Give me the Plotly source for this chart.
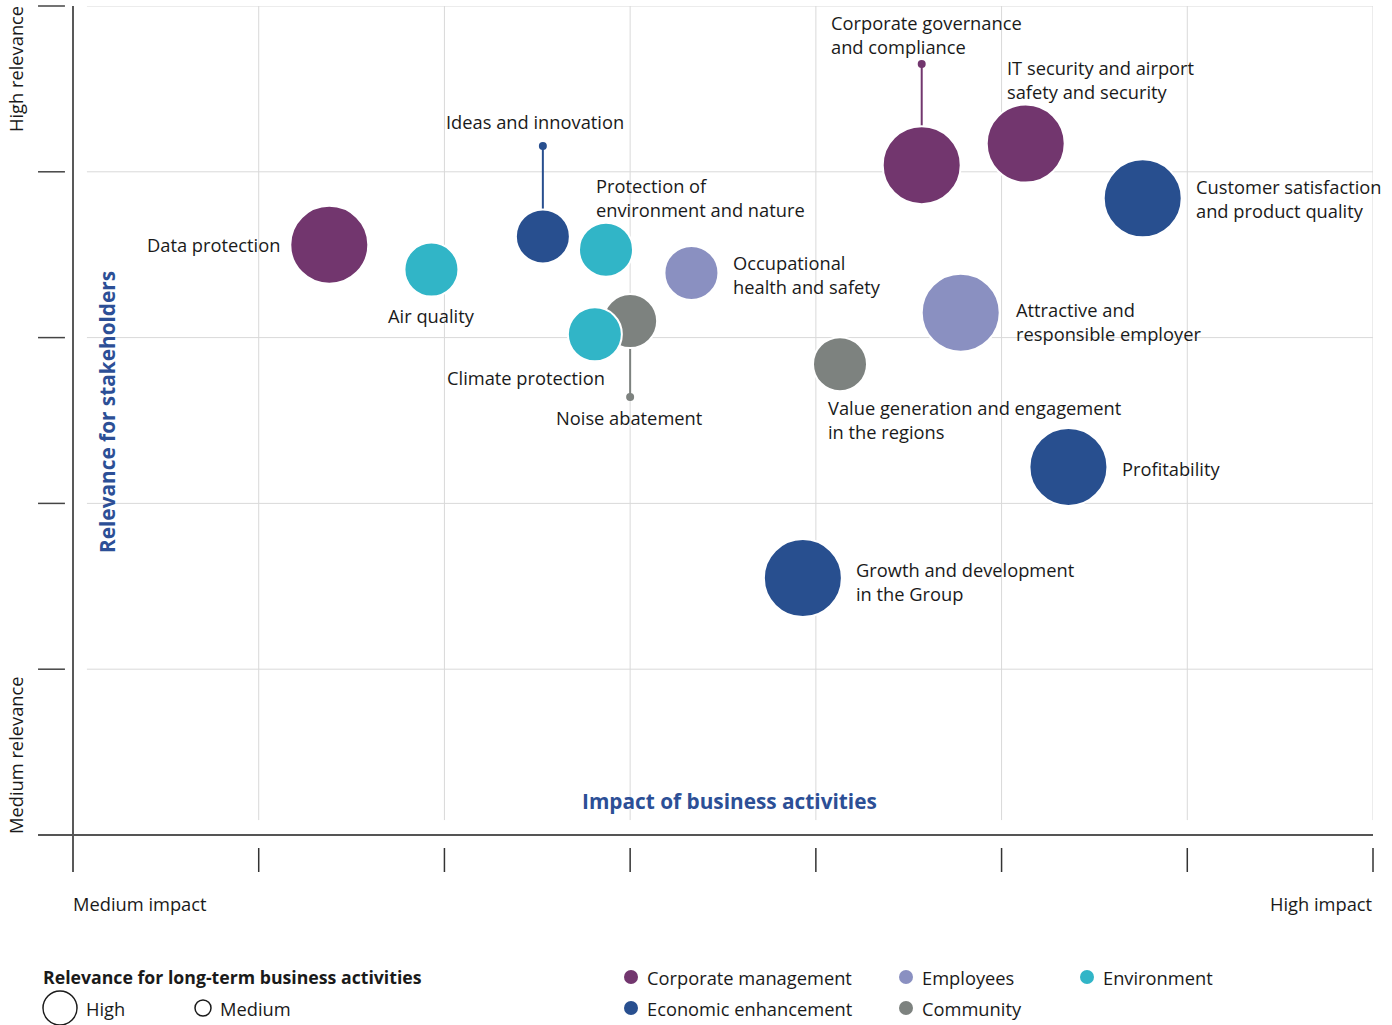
import plotly.graph_objects as go

# ---------------- data ----------------
topics = [
    "Data protection", "Air quality", "Ideas and innovation",
    "Protection of environment and nature", "Noise abatement", "Climate protection",
    "Occupational health and safety", "Corporate governance and compliance",
    "IT security and airport safety and security", "Customer satisfaction and product quality",
    "Attractive and responsible employer", "Value generation and engagement in the regions",
    "Profitability", "Growth and development in the Group",
]
impact = [1.38, 1.93, 2.53, 2.87, 3.00, 2.81, 3.33, 4.57, 5.13, 5.76, 4.78, 4.13, 5.36, 3.93]
relevance = [3.56, 3.41, 3.61, 3.53, 3.10, 3.02, 3.39, 4.04, 4.17, 3.84, 3.15, 2.84, 2.22, 1.55]
category = [
    "Corporate management", "Environment", "Economic enhancement", "Environment",
    "Community", "Environment", "Employees", "Corporate management",
    "Corporate management", "Economic enhancement", "Employees", "Community",
    "Economic enhancement", "Economic enhancement",
]
longterm = ["High", "Medium", "Medium", "Medium", "Medium", "Medium", "Medium",
            "High", "High", "High", "High", "Medium", "High", "High"]
leader_end = [None, None, 4.156, None, 2.642, None, None, 4.65, None, None, None, None, None, None]

labels = [
    "Data protection", "Air quality", "Ideas and innovation",
    "Protection of<br>environment and nature", "Noise abatement", "Climate protection",
    "Occupational<br>health and safety", "Corporate governance<br>and compliance",
    "IT security and airport<br>safety and security", "Customer satisfaction<br>and product quality",
    "Attractive and<br>responsible employer", "Value generation and engagement<br>in the regions",
    "Profitability", "Growth and development<br>in the Group",
]
label_x = [1.125, 1.933, 1.997, 2.805, 2.999, 2.003, 3.543, 4.071, 5.018, 6.036, 5.067, 4.054, 5.637, 4.205]
label_y = [3.559, 3.136, 4.306, 3.848, 2.521, 2.762, 3.378, 4.831, 4.554, 3.842, 3.100, 2.509, 2.213, 1.526]
label_anchor = ["right", "center", "left", "left", "center", "left", "left", "left",
                "left", "left", "left", "left", "left", "left"]

legend_categories = ["Corporate management", "Economic enhancement", "Employees", "Community", "Environment"]
colors = {
    "Corporate management": "#72366e",
    "Economic enhancement": "#284f8f",
    "Employees": "#8a90c1",
    "Community": "#7d827f",
    "Environment": "#31b5c7",
}
size_px = {"High": 78, "Medium": 54}

x_ticks = [0, 1, 2, 3, 4, 5, 6, 7]
y_ticks = [0, 1, 2, 3, 4, 5]

FONT = "Open Sans"
FS = 18.3
TXT = "#1a1a1a"
BLUE = "#2c4f96"

fig = go.Figure()

# leader lines
for i, e in enumerate(leader_end):
    if e is None:
        continue
    c = colors[category[i]]
    fig.add_trace(go.Scatter(x=[impact[i], impact[i]], y=[relevance[i], e], mode="lines",
                             line=dict(color=c, width=2), hoverinfo="skip", showlegend=False))
    fig.add_trace(go.Scatter(x=[impact[i]], y=[e], mode="markers",
                             marker=dict(color=c, size=8), hoverinfo="skip", showlegend=False))

# bubbles
fig.add_trace(go.Scatter(
    x=impact, y=relevance, mode="markers", text=topics, hoverinfo="text",
    marker=dict(color=[colors[c] for c in category],
                size=[size_px[s] for s in longterm],
                line=dict(color="white", width=2), opacity=1),
    showlegend=False, cliponaxis=False,
))

# labels
for t, lx, ly, a in zip(labels, label_x, label_y, label_anchor):
    fig.add_annotation(x=lx, y=ly, xref="x", yref="y", text=t, showarrow=False,
                       xanchor=a, yanchor="middle", align="left",
                       font=dict(family=FONT, size=FS, color=TXT))

shapes = []
# gridlines
for xv in x_ticks[1:]:
    shapes.append(dict(type="line", xref="x", yref="y", x0=xv, x1=xv, y0=0.09, y1=y_ticks[-1],
                       line=dict(color="#d9d9d9", width=1), layer="below"))
for yv in y_ticks[1:]:
    shapes.append(dict(type="line", xref="x", yref="y", x0=0.075, x1=x_ticks[-1], y0=yv, y1=yv,
                       line=dict(color="#d9d9d9", width=1), layer="below"))

xmax = x_ticks[-1]
ymax = y_ticks[-1]
# axes (paper coords: x 0..1 -> 73..1373 px, y 0..1 -> 835..6 px)
shapes.append(dict(type="line", xref="paper", yref="paper", x0=0, x1=0, y0=-0.0446, y1=1,
                   line=dict(color="#222222", width=1.5)))
shapes.append(dict(type="line", xref="paper", yref="paper", x0=-0.0269, x1=1, y0=0, y1=0,
                   line=dict(color="#555555", width=2)))
for yv in y_ticks[1:]:
    shapes.append(dict(type="line", xref="paper", yref="paper", x0=-0.0269, x1=-0.0062,
                       y0=yv / ymax, y1=yv / ymax, line=dict(color="#444444", width=1.5)))
for xv in x_ticks[1:]:
    shapes.append(dict(type="line", xref="paper", yref="paper", x0=xv / xmax, x1=xv / xmax,
                       y0=-0.0157, y1=-0.0446, line=dict(color="#333333", width=1.5)))

# legend: long-term relevance circles
shapes.append(dict(type="circle", xref="paper", yref="paper", xsizemode="pixel", ysizemode="pixel",
                   xanchor=(60 - 73) / 1300, yanchor=(835 - 1008) / 829,
                   x0=-17, x1=17, y0=-17, y1=17, line=dict(color="#1a1a1a", width=1.5)))
shapes.append(dict(type="circle", xref="paper", yref="paper", xsizemode="pixel", ysizemode="pixel",
                   xanchor=(203 - 73) / 1300, yanchor=(835 - 1008) / 829,
                   x0=-8, x1=8, y0=-8, y1=8, line=dict(color="#1a1a1a", width=1.5)))

# legend: categories
leg_pos = [(631, 977), (631, 1008), (906, 977), (906, 1008), (1087, 977)]
for cat, (px, py) in zip(legend_categories, leg_pos):
    shapes.append(dict(type="circle", xref="paper", yref="paper", xsizemode="pixel", ysizemode="pixel",
                       xanchor=(px - 73) / 1300, yanchor=(835 - py) / 829,
                       x0=-7, x1=7, y0=-7, y1=7, fillcolor=colors[cat], line=dict(width=0)))
    fig.add_annotation(x=(px + 14 - 73) / 1300, y=(835 - py) / 829, xref="paper", yref="paper",
                       text=cat, showarrow=False, xanchor="left", yanchor="middle",
                       font=dict(family=FONT, size=FS, color=TXT))

def pann(text, px, py, xa="left", ya="middle", size=FS, color=TXT, bold=False, angle=0):
    fig.add_annotation(x=(px - 73) / 1300, y=(835 - py) / 829, xref="paper", yref="paper",
                       text=f"<b>{text}</b>" if bold else text, showarrow=False,
                       xanchor=xa, yanchor=ya, textangle=angle,
                       font=dict(family=FONT, size=size, color=color))

pann("High relevance", 15, 4, xa="center", ya="top", angle=-90)
pann("Medium relevance", 15, 836, xa="center", ya="bottom", angle=-90)
pann("Relevance for stakeholders", 107, 412, xa="center", ya="middle", size=20.8, color=BLUE, bold=True, angle=-90)
pann("Impact of business activities", 729, 801, xa="center", ya="middle", size=20.8, color=BLUE, bold=True)
pann("Medium impact", 71, 903, xa="left")
pann("High impact", 1375, 903, xa="right")
pann("Relevance for long-term business activities", 41, 977, xa="left", size=17.7, bold=True)
pann("High", 84, 1008, xa="left")
pann("Medium", 218, 1008, xa="left")

fig.update_layout(
    width=1392, height=1025, autosize=False,
    margin=dict(l=73, r=19, t=6, b=190),
    paper_bgcolor="white", plot_bgcolor="white",
    shapes=shapes,
    xaxis=dict(range=[x_ticks[0], x_ticks[-1]], showgrid=False, zeroline=False,
               showticklabels=False, showline=False, fixedrange=True),
    yaxis=dict(range=[y_ticks[0], y_ticks[-1]], showgrid=False, zeroline=False,
               showticklabels=False, showline=False, fixedrange=True),
    font=dict(family=FONT, size=FS, color=TXT),
    showlegend=False,
)

fig.write_html("out.html", config={"displayModeBar": False},
               post_script="document.body.style.margin='0';document.body.style.overflow='hidden';")
